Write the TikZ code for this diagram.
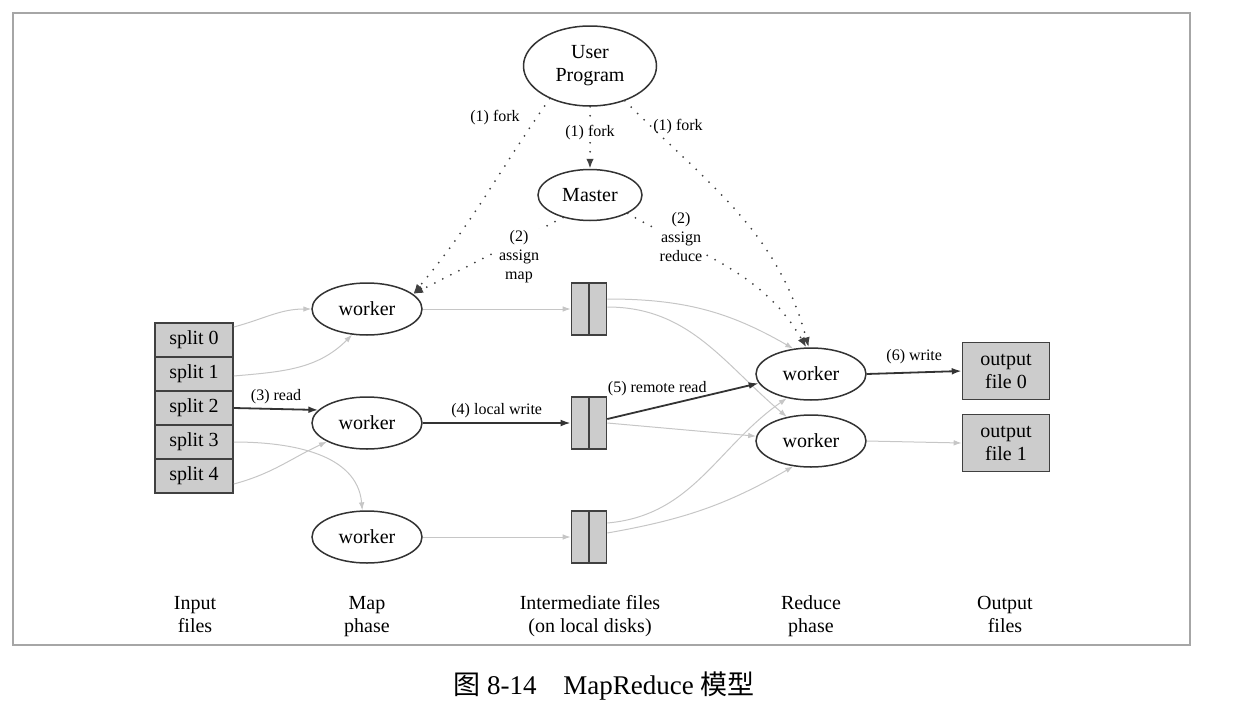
\documentclass[tikz,border=0pt]{standalone}
\usepackage{fontspec}
\setmainfont{Liberation Serif}
\newfontfamily\cjk{Noto Sans CJK SC}
\usetikzlibrary{shapes.geometric,arrows.meta}

\begin{document}
\begin{tikzpicture}[
    x=0.5pt, y=-0.5pt,
    every node/.style={font=\fontsize{10}{11.5}\selectfont},
    proc/.style={ellipse, draw=black!80, line width=0.75pt, inner sep=0pt,
        minimum width=55pt, minimum height=26pt},
    filebox/.style={draw=black!75, line width=0.8pt, fill=gray!40, inner sep=0pt},
    splitbox/.style={filebox, minimum width=39pt, minimum height=17pt},
    interbox/.style={filebox, minimum width=17.5pt, minimum height=26pt,
        path picture={\draw[black!75, line width=0.8pt]
            (path picture bounding box.north) -- (path picture bounding box.south);}},
    outbox/.style={filebox, minimum width=43.5pt, minimum height=28.5pt, align=center},
    lab/.style={font=\fontsize{8}{9.5}\selectfont, align=center, inner sep=1pt},
    feed/.style={draw=gray!45, line width=0.5pt, -{Latex[length=4pt,width=2.8pt]}},
    flow/.style={draw=black!80, line width=0.9pt, -{Latex[length=5pt,width=3.4pt]}},
    ctrl/.style={draw=black!75, line width=1pt, line cap=round,
        dash pattern=on 0pt off 4.5pt, -{Latex[length=5pt,width=3.8pt]}},
    phase/.style={align=center}
]
\useasboundingbox (0,0) rectangle (1238,702);

% frame
\draw[gray!70, line width=0.8pt] (13,13) rectangle (1190,645);

% control side
\node[proc, align=center, minimum width=66.5pt, minimum height=40pt] (up) at (590,66) {User\\Program};
\node[proc, minimum width=52pt, minimum height=25.5pt] (ma) at (590,195) {Master};

% input splits
\foreach \i in {0,...,4}
    \node[splitbox] (s\i) at (194,{340+34*\i}) {split \i};

% map workers
\node[proc] (w1) at (367,309) {worker};
\node[proc] (w2) at (367,423) {worker};
\node[proc] (w3) at (367,537) {worker};

% intermediate files
\node[interbox] (f1) at (589,309) {};
\node[interbox] (f2) at (589,423) {};
\node[interbox] (f3) at (589,537) {};

% reduce workers
\node[proc] (r1) at (811,374) {worker};
\node[proc] (r2) at (811,441) {worker};

% output files
\node[outbox] (o0) at (1006,371) {output\\file 0};
\node[outbox] (o1) at (1006,443) {output\\file 1};

% fork / assign
\draw[ctrl] (up.south) -- (ma.north) node[lab, fill=white, pos=0.42] {(1) fork};
\draw[ctrl] (up.219) to[out=235, in=50] (w1.18);
\draw[ctrl] (up.315) to[out=-45, in=105] (r1.95);
\draw[ctrl] (ma.220) -- (w1.18);
\draw[ctrl] (ma.334) to[out=-30, in=120] (r1.100);
\node[lab] (fkl) at (495,118) {(1) fork};
\node[lab] (fkr) at (678,127) {(1) fork};
\node[lab, fill=white] (asm) at (519,257) {(2)\\assign\\map};
\node[lab, fill=white] (asr) at (681,237) {(2)\\assign\\reduce};

% read splits
\draw[feed] ([yshift=6.5pt]s0.east) to[out=15, in=180] (w1.west);
\draw[feed] ([yshift=-1pt]s1.east) to[out=5, in=225] (w1.240);
\draw[flow] (s2.east) -- (w2.165) node[lab, midway, above=1pt] {(3) read};
\draw[feed] (s3.east) to[out=0, in=95] (w3.100);
\draw[feed] ([yshift=-4pt]s4.east) to[out=15, in=205] (w2.205);

% local write
\draw[feed] (w1.east) -- (f1.west);
\draw[flow] (w2.east) -- (f2.west) node[lab, midway, above=1pt] {(4) local write};
\draw[feed] (w3.east) -- (f3.west);

% remote read
\draw[feed] ([yshift=5pt]f1.east) to[out=0, in=150] (r1.125);
\draw[feed] ([yshift=1pt]f1.east) to[out=0, in=140] (r2.135);
\draw[flow] ([yshift=2pt]f2.east) -- (r1.190) node[lab, pos=0.33, above=4pt] {(5) remote read};
\draw[feed] (f2.east) -- (r2.175);
\draw[feed] ([yshift=7pt]f3.east) to[out=5, in=215] (r1.225);
\draw[feed] ([yshift=2pt]f3.east) to[out=10, in=210] (r2.235);

% write output
\draw[flow] (r1.east) -- (o0.west) node[lab, midway, above=3pt] {(6) write};
\draw[feed] (r2.east) -- (o1.west);

% phase captions
\node[phase] (cin) at (195,616) {\strut Input\\\strut files};
\node[phase] (cmap) at (367,616) {\strut Map\\\strut phase};
\node[phase] (cmid) at (590,616) {\strut Intermediate files\\\strut (on local disks)};
\node[phase] (cred) at (811,616) {\strut Reduce\\\strut phase};
\node[phase] (cout) at (1005,616) {\strut Output\\\strut files};

% figure caption
\node[font=\fontsize{13.5}{15}\selectfont] (cap) at (604,686)
    {{\cjk 图}~8-14\quad MapReduce~{\cjk 模型}};
\end{tikzpicture}
\end{document}
